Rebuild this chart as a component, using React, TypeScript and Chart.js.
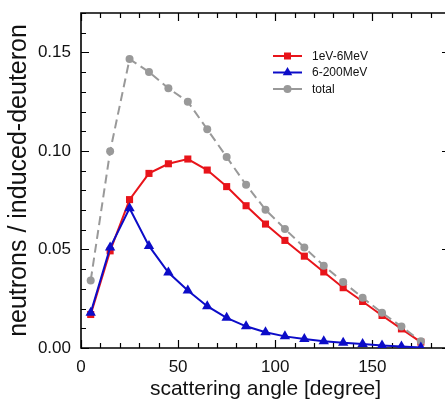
import React, { useEffect, useRef } from "react";
import { Chart, registerables } from "chart.js";

Chart.register(...registerables);

// scattering angle [degree]
const angles = [5, 15, 25, 35, 45, 55, 65, 75, 85, 95, 105, 115, 125, 135, 145, 155, 165, 175];
// 1eV-6MeV
const lowEnergy = [0.017, 0.0493, 0.0753, 0.0886, 0.0935, 0.0959, 0.0903, 0.0819, 0.0722, 0.0629, 0.0546, 0.0466, 0.0386, 0.0306, 0.0236, 0.0165, 0.0097, 0.003];
// 6-200MeV
const highEnergy = [0.0179, 0.051, 0.0709, 0.0518, 0.0383, 0.0292, 0.0212, 0.0153, 0.011, 0.008, 0.0059, 0.0046, 0.0034, 0.0027, 0.002, 0.0013, 0.0008, 0.0002];
// total
const totalYield = [0.0343, 0.0998, 0.1466, 0.1401, 0.1318, 0.125, 0.111, 0.0969, 0.0828, 0.0702, 0.0604, 0.051, 0.0418, 0.0335, 0.0255, 0.0179, 0.0109, 0.0034];

const seriesLabels = ["1eV-6MeV", "6-200MeV", "total"];
const xTickValues = [0, 50, 100, 150];
const yTickValues = [0, 0.05, 0.1, 0.15];

const FONT = '"Liberation Sans", Arial, Helvetica, sans-serif';
const RED = "#e8141a";
const BLUE = "#0c0cc8";
const GRAY = "#999999";

const toPoints = (ys: number[]) => angles.map((a, i) => ({ x: a, y: ys[i] }));

const framePlugin = {
  id: "frameTicks",
  beforeDatasetsDraw(chart: any) {
    const { ctx, chartArea } = chart;
    const { left, right, top, bottom } = chartArea;
    const xs = chart.scales.x;
    const ys = chart.scales.y;
    ctx.save();
    ctx.strokeStyle = "#000";
    ctx.lineWidth = 1.2;
    ctx.beginPath();
    for (let v = 0; v <= xs.max; v += 10) {
      const px = Math.round(xs.getPixelForValue(v)) + 0.5;
      const len = v % 50 === 0 ? 8 : 5;
      ctx.moveTo(px, bottom);
      ctx.lineTo(px, bottom - len);
      ctx.moveTo(px, top);
      ctx.lineTo(px, top + len);
    }
    for (let i = 0; i <= Math.round(ys.max * 100); i++) {
      const py = Math.round(ys.getPixelForValue(i / 100)) + 0.5;
      const len = i % 5 === 0 ? 8 : 5;
      ctx.moveTo(left, py);
      ctx.lineTo(left + len, py);
      ctx.moveTo(right, py);
      ctx.lineTo(right - len, py);
    }
    ctx.stroke();
    ctx.lineWidth = 1.6;
    ctx.beginPath();
    ctx.moveTo(right + 1, top);
    ctx.lineTo(left, top);
    ctx.lineTo(left, bottom);
    ctx.lineTo(right + 1, bottom);
    ctx.stroke();
    ctx.restore();
  },
};

function drawMarker(ctx: CanvasRenderingContext2D, style: string, x: number, y: number, color: string) {
  ctx.fillStyle = color;
  ctx.beginPath();
  if (style === "rect") {
    ctx.rect(x - 3.5, y - 3.5, 7, 7);
  } else if (style === "triangle") {
    const r = 5.5;
    ctx.moveTo(x, y - r);
    ctx.lineTo(x + r * Math.sin((2 * Math.PI) / 3), y - r * Math.cos((2 * Math.PI) / 3));
    ctx.lineTo(x + r * Math.sin((4 * Math.PI) / 3), y - r * Math.cos((4 * Math.PI) / 3));
    ctx.closePath();
  } else {
    ctx.arc(x, y, 4, 0, Math.PI * 2);
  }
  ctx.fill();
}

const legendPlugin = {
  id: "insideLegend",
  afterDraw(chart: any) {
    const { ctx, chartArea } = chart;
    const x0 = chartArea.left + 192;
    const x1 = chartArea.left + 221;
    const textX = chartArea.left + 231;
    const y0 = chartArea.top + 43;
    const rowH = 16.5;
    const styles = ["rect", "triangle", "circle"];
    const colors = [RED, BLUE, GRAY];
    ctx.save();
    seriesLabels.forEach((label, i) => {
      const y = y0 + i * rowH;
      ctx.strokeStyle = colors[i];
      ctx.lineWidth = 2;
      ctx.setLineDash([]);
      ctx.beginPath();
      ctx.moveTo(x0, y);
      ctx.lineTo(x1, y);
      ctx.stroke();
      drawMarker(ctx, styles[i], (x0 + x1) / 2, y, colors[i]);
      ctx.fillStyle = "#111";
      ctx.font = `12px ${FONT}`;
      ctx.textBaseline = "middle";
      ctx.textAlign = "left";
      ctx.fillText(label, textX, y + 0.5);
    });
    ctx.restore();
  },
};

export default function App() {
  const canvasRef = useRef<HTMLCanvasElement | null>(null);

  useEffect(() => {
    if (!canvasRef.current) return;
    const chart = new Chart(canvasRef.current, {
      type: "line",
      data: {
        datasets: [
          {
            label: seriesLabels[0],
            data: toPoints(lowEnergy),
            borderColor: RED,
            backgroundColor: RED,
            borderWidth: 2,
            pointStyle: "rect",
            pointRadius: 5,
            pointBorderWidth: 0,
            order: 3,
          },
          {
            label: seriesLabels[1],
            data: toPoints(highEnergy),
            borderColor: BLUE,
            backgroundColor: BLUE,
            borderWidth: 2,
            pointStyle: "triangle",
            pointRadius: 6,
            pointBorderWidth: 0,
            order: 1,
          },
          {
            label: seriesLabels[2],
            data: toPoints(totalYield),
            borderColor: GRAY,
            backgroundColor: GRAY,
            borderWidth: 2,
            borderDash: [9, 5],
            pointStyle: "circle",
            pointRadius: 4,
            pointBorderWidth: 0,
            order: 2,
          },
        ],
      },
      options: {
        responsive: false,
        animation: false,
        layout: { padding: { top: 13, right: 10, left: 0, bottom: 0 } },
        plugins: { legend: { display: false }, tooltip: { enabled: false } },
        scales: {
          x: {
            type: "linear",
            min: 0,
            max: 190,
            grid: { display: false, drawTicks: false },
            border: { display: false },
            afterBuildTicks: (scale: any) => {
              scale.ticks = xTickValues.map((v) => ({ value: v }));
            },
            afterFit: (scale: any) => {
              scale.height = 56;
            },
            ticks: {
              padding: 9,
              color: "#111",
              font: { family: FONT, size: 17 },
              callback: (v: any) => String(v),
            },
            title: {
              display: true,
              text: "scattering angle [degree]",
              color: "#111",
              font: { family: FONT, size: 21 },
              padding: { top: 0, bottom: 2 },
            },
          },
          y: {
            type: "linear",
            min: 0,
            max: 0.17,
            grid: { display: false, drawTicks: false },
            border: { display: false },
            afterBuildTicks: (scale: any) => {
              scale.ticks = yTickValues.map((v) => ({ value: v }));
            },
            afterFit: (scale: any) => {
              scale.width = 81;
            },
            ticks: {
              padding: 10,
              color: "#111",
              font: { family: FONT, size: 17, lineHeight: 0.3 },
              callback: (v: any) => Number(v).toFixed(2),
            },
            title: {
              display: true,
              text: "neutrons / induced-deuteron",
              color: "#111",
              font: { family: FONT, size: 25 },
              padding: { top: 4, bottom: 0 },
            },
          },
        },
      },
      plugins: [framePlugin, legendPlugin],
    } as any);
    return () => chart.destroy();
  }, []);

  return (
    <div
      style={{
        position: "fixed",
        left: 0,
        top: 0,
        width: 445,
        height: 404,
        overflow: "hidden",
        background: "#fff",
      }}
    >
      <canvas ref={canvasRef} width={460} height={404} style={{ display: "block", width: 460, height: 404 }} />
    </div>
  );
}
